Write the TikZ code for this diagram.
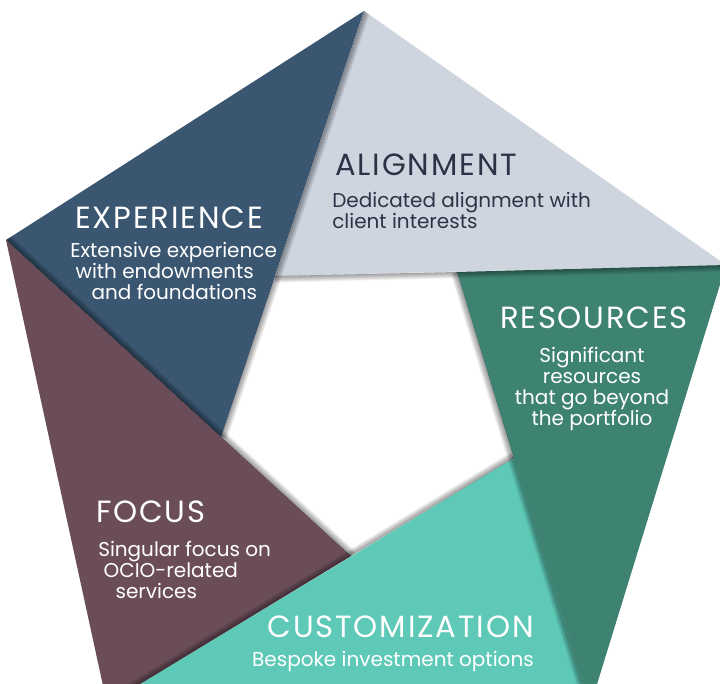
\documentclass[tikz,border=0pt]{standalone}
\usepackage{fontspec}
\setmainfont{Poppins}
\newfontfamily\headfont[LetterSpace=6]{Poppins}
\usepackage{tikz}
\usetikzlibrary{positioning}

\definecolor{expblue}{HTML}{3A5670}
\definecolor{aligray}{HTML}{CFD5DF}
\definecolor{resgreen}{HTML}{3E8272}
\definecolor{custeal}{HTML}{5EC9B6}
\definecolor{focmaroon}{HTML}{6A4D59}
\definecolor{darktext}{HTML}{2B3446}

\begin{document}
\begin{tikzpicture}[x=0.75pt, y=-0.75pt,
    piecetitle/.style={font=\headfont\fontsize{23}{25}\selectfont, text=white, inner sep=0pt},
    piecetext/.style={font=\fontsize{15}{15.75}\selectfont, text=white, inner sep=0pt},
    shadowline/.style={black, opacity=0.045}]
    \useasboundingbox (0,0) rectangle (720,683);
    \clip (0,0) rectangle (720,683);
    \fill[white] (0,0) rectangle (720,683);

    % outer corners
    \coordinate (T) at (364,11);
    \coordinate (R) at (726,265);
    \coordinate (BR) at (590,707);
    \coordinate (BL) at (107,704);
    \coordinate (L) at (6,240);
    % corners of the hole
    \coordinate (a) at (275,276);
    \coordinate (b) at (457,272);
    \coordinate (c) at (514,458);
    \coordinate (d) at (351,556);
    \coordinate (e) at (221,437);

    \fill[expblue] (T) -- (L) -- (e) -- cycle;
    \fill[aligray] (R) -- (T) -- (a) -- cycle;
    \fill[resgreen] (BR) -- (R) -- (b) -- cycle;
    \fill[custeal] (BL) -- (BR) -- (c) -- cycle;
    \fill[focmaroon] (L) -- (BL) -- (d) -- cycle;

    % soft shadows along the long edges
    \begin{scope}
        \clip (T) -- (a) -- (e) -- (d) -- (c) -- (b) -- (R) -- cycle;
        \foreach \w in {1,...,10} \draw[shadowline, line width=\w pt] (T) -- (e);
    \end{scope}
    \begin{scope}
        \clip (R) -- (b) -- (a) -- (e) -- (d) -- (c) -- (BR) -- cycle;
        \foreach \w in {1,...,10} \draw[shadowline, line width=\w pt] (R) -- (a);
    \end{scope}
    \begin{scope}
        \clip (BR) -- (c) -- (b) -- (a) -- (e) -- (d) -- (BL) -- cycle;
        \foreach \w in {1,...,10} \draw[shadowline, line width=\w pt] (BR) -- (b);
    \end{scope}
    \begin{scope}
        \clip (BL) -- (d) -- (c) -- (b) -- (a) -- (e) -- (L) -- cycle;
        \foreach \w in {1,...,10} \draw[shadowline, line width=\w pt] (BL) -- (c);
    \end{scope}
    \begin{scope}
        \clip (L) -- (e) -- (d) -- (c) -- (b) -- (a) -- (T) -- cycle;
        \foreach \w in {1,...,10} \draw[shadowline, line width=\w pt] (L) -- (d);
    \end{scope}

    % labels (multi-line texts sit on the baseline of their last line)
    \node[piecetitle, text=darktext, anchor=base west] (alititle) at (335,175) {ALIGNMENT};
    \node[piecetext, text=darktext, anchor=base west, align=left] (alitext) at (332,228) {Dedicated alignment with\\client interests};

    \node[piecetitle, anchor=base west] (exptitle) at (75,228) {EXPERIENCE};
    \node[piecetext, anchor=base west, align=left] (exptext) at (70,299) {Extensive experience\\\hspace*{4pt}with endowments\\\hspace*{16pt}and foundations};

    \node[piecetitle, anchor=base] (restitle) at (594,328) {RESOURCES};
    \node[piecetext, anchor=base, align=center] (restext) at (592,425) {Significant\\resources\\that go beyond\\the portfolio};

    \node[piecetitle, anchor=base west] (foctitle) at (96,522) {FOCUS};
    \node[piecetext, anchor=base west, align=left] (foctext) at (98,598) {Singular focus on\\\hspace*{4pt}OCIO-related\\\hspace*{13pt}services};

    \node[piecetitle, anchor=base east] (custitle) at (534,637) {CUSTOMIZATION};
    \node[piecetext, anchor=base east] (custext) at (534,666) {Bespoke investment options};
\end{tikzpicture}
\end{document}
